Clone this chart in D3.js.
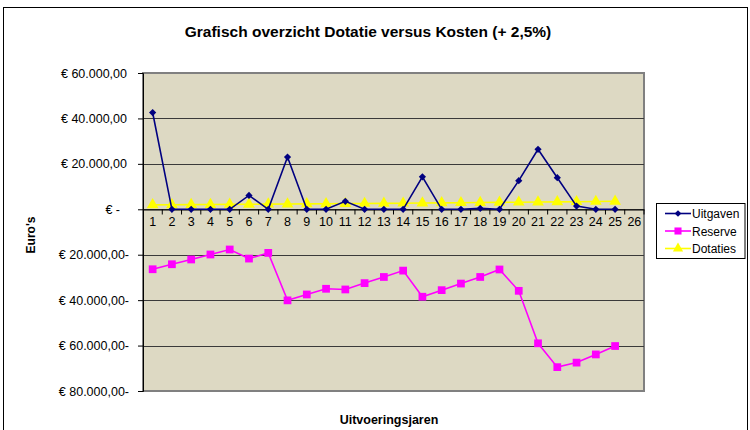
<!DOCTYPE html>
<html>
<head>
<meta charset="utf-8">
<script src="https://cdn.jsdelivr.net/npm/d3@7"></script>
<style>
body { margin: 0; background: #fff; }
text { font-family: Arial, "Liberation Sans", sans-serif; }
</style>
</head>
<body>
<div id="chart-area"></div>
<script>
// data
var years = d3.range(1, 27).map(String);
var uitgaven = [42600, 0, 0, 0, 0, 6100, 0, 23000, 0, 0, 3500, 0, 0, 0, 14300, 0, 0, 400, 0, 12600, 26400, 13900, 1400, 0, 0];
var reserve = [-26400, -24200, -22100, -19900, -17700, -21700, -19200, -40100, -37500, -35000, -35300, -32500, -29800, -27000, -38500, -35600, -32700, -29800, -26500, -35900, -59000, -69500, -67500, -63900, -60200];
var dotaties = [1950, 2000, 2050, 2100, 2150, 2200, 2260, 2320, 2370, 2430, 2490, 2560, 2620, 2690, 2750, 2820, 2890, 2960, 3040, 3110, 3190, 3270, 3350, 3440, 3520];
var yTicks = [60000, 40000, 20000, 0, -20000, -40000, -60000, -80000];

var W = 750, H = 430;
var plot = {left: 143, top: 73, right: 644, bottom: 391};

var svg = d3.select("#chart-area").append("svg")
	.attr("width", W)
	.attr("height", H);

// chart border
svg.append("rect")
	.attr("x", 3.5).attr("y", 7.5)
	.attr("width", 744).attr("height", 430)
	.attr("fill", "#fff")
	.attr("stroke", "#000");

var x = d3.scaleBand()
	.domain(years)
	.range([plot.left, plot.right]);

var y = d3.scaleLinear()
	.domain([-80000, 60000])
	.range([plot.bottom, plot.top]);

// plot background
svg.append("rect")
	.attr("x", plot.left).attr("y", plot.top)
	.attr("width", plot.right - plot.left)
	.attr("height", plot.bottom - plot.top)
	.attr("fill", "#DDD9C3")
	.attr("stroke", "#808080")
	.attr("stroke-width", 2);

// gridlines
svg.append("g")
	.selectAll("line").data(yTicks.filter(function(d){ return d > -80000 && d < 60000; }))
	.enter().append("line")
		.attr("x1", plot.left).attr("x2", plot.right)
		.attr("y1", function(d){ return Math.round(y(d)) + 0.5; })
		.attr("y2", function(d){ return Math.round(y(d)) + 0.5; })
		.attr("stroke", "#3a3a3a")
		.attr("stroke-width", 1.2);

// left axis
var leftAxis = d3.axisLeft(y)
	.tickValues(yTicks)
	.tickSize(5)
	.tickPadding(9)
	.tickFormat(function(d){
		if (d === 0) return "€ -";
		var s = "€ " + d3.format(",.2f")(Math.abs(d)).replace(/,/g, "#").replace(".", ",").replace(/#/g, ".");
		return d < 0 ? s + "-" : s;
	});

var gy = svg.append("g")
	.attr("transform", "translate(" + plot.left + ",0)")
	.call(leftAxis);
gy.select(".domain").attr("stroke", "#000");
gy.selectAll("line").attr("stroke", "#000");
gy.selectAll("text")
	.attr("font-size", "12.5px")
	.attr("fill", "#000")
	.attr("dx", function(d){ return d > 0 ? -2 : (d === 0 ? -9 : 0); });

// bottom axis on the zero line
var bottomAxis = d3.axisBottom(x).tickSize(0).tickPadding(8);
var gx = svg.append("g")
	.attr("transform", "translate(0," + (Math.round(y(0)) + 0.5) + ")")
	.call(bottomAxis);
gx.select(".domain").attr("stroke", "#000");
gx.selectAll("text").attr("font-size", "12.5px").attr("fill", "#000");
gx.selectAll(".band-tick").data(years.slice(1).concat(["end"]))
	.enter().append("line")
		.attr("x1", function(d){ return d === "end" ? plot.right : x(d); })
		.attr("x2", function(d){ return d === "end" ? plot.right : x(d); })
		.attr("y1", 0).attr("y2", 5)
		.attr("stroke", "#000");

var cx = function(d, i){ return x(years[i]) + x.bandwidth() / 2; };

function drawSeries(values, color, symbolType, size, rotate) {
	var line = d3.line()
		.x(cx)
		.y(function(d){ return y(d); });
	svg.append("path")
		.datum(values)
		.attr("fill", "none")
		.attr("stroke", color)
		.attr("stroke-width", 1.6)
		.attr("d", line);
	svg.append("g").selectAll("path").data(values)
		.enter().append("path")
			.attr("d", d3.symbol().type(symbolType).size(size))
			.attr("transform", function(d, i){
				return "translate(" + cx(d, i) + "," + y(d) + ")" + (rotate ? " rotate(45)" : "");
			})
			.attr("fill", color);
}

drawSeries(dotaties, "#FFFF00", d3.symbolTriangle, 60, false);
drawSeries(reserve, "#FF00FF", d3.symbolSquare, 60, false);
drawSeries(uitgaven, "#000080", d3.symbolSquare, 26, true);

// title
svg.append("text")
	.attr("x", 368).attr("y", 37)
	.attr("text-anchor", "middle")
	.attr("font-size", "15.5px")
	.attr("font-weight", "bold")
	.text("Grafisch overzicht Dotatie versus Kosten (+ 2,5%)");

// y label
svg.append("text")
	.attr("transform", "translate(35,235) rotate(-90)")
	.attr("text-anchor", "middle")
	.attr("font-size", "12px")
	.attr("font-weight", "bold")
	.text("Euro's");

// x label
svg.append("text")
	.attr("x", 389).attr("y", 424)
	.attr("text-anchor", "middle")
	.attr("font-size", "12.5px")
	.attr("font-weight", "bold")
	.text("Uitvoeringsjaren");

// legend
var legendItems = [
	{name: "Uitgaven", color: "#000080", type: d3.symbolSquare, size: 22, rot: true},
	{name: "Reserve", color: "#FF00FF", type: d3.symbolSquare, size: 50, rot: false},
	{name: "Dotaties", color: "#FFFF00", type: d3.symbolTriangle, size: 45, rot: false}
];
var lg = svg.append("g").attr("transform", "translate(656.5,203.5)");
lg.append("rect")
	.attr("width", 88.5).attr("height", 55)
	.attr("fill", "#fff").attr("stroke", "#000");
var li = lg.selectAll(".item").data(legendItems).enter().append("g")
	.attr("transform", function(d, i){ return "translate(0," + (10 + i * 17.5) + ")"; });
li.append("line")
	.attr("x1", 8.5).attr("x2", 34.5)
	.attr("stroke", function(d){ return d.color; })
	.attr("stroke-width", 1.6);
li.append("path")
	.attr("d", function(d){ return d3.symbol().type(d.type).size(d.size)(); })
	.attr("transform", function(d){ return "translate(21.5,0)" + (d.rot ? " rotate(45)" : ""); })
	.attr("fill", function(d){ return d.color; });
li.append("text")
	.attr("x", 35.5).attr("y", 4.5)
	.attr("font-size", "12px")
	.text(function(d){ return d.name; });
</script>
</body>
</html>
